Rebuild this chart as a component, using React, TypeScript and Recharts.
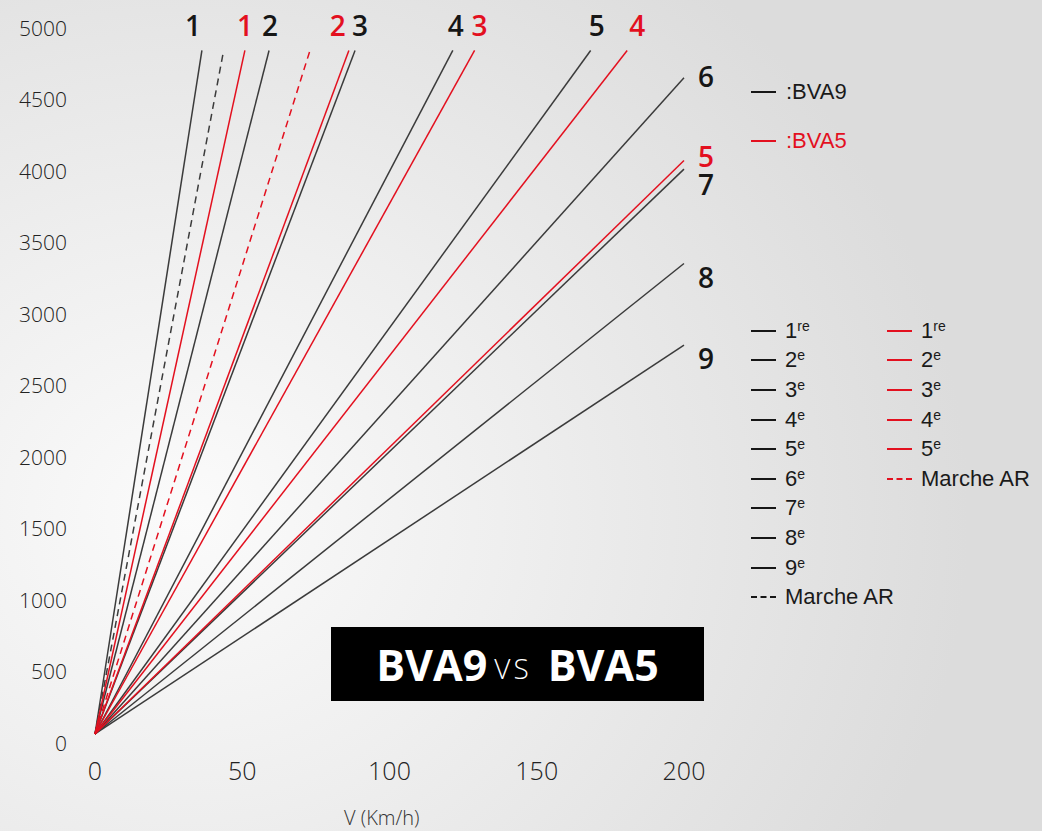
import React from 'react';
import { LineChart, Line, XAxis, YAxis } from 'recharts';

// BVA9 gear lines: end point of each ratio line (speed km/h, engine rpm)
const BVA9_GEARS = ['1', '2', '3', '4', '5', '6', '7', '8', '9', 'AR'];
const BVA9_END_SPEED = [36.3, 59.1, 88.3, 121.5, 168.3, 200, 200, 200, 200, 43.5];
const BVA9_END_RPM = [4780, 4780, 4780, 4780, 4780, 4590, 3950, 3290, 2720, 4760];

// BVA5 gear lines
const BVA5_GEARS = ['1', '2', '3', '4', '5', 'AR'];
const BVA5_END_SPEED = [50.9, 86.2, 128.9, 180.7, 200, 73.0];
const BVA5_END_RPM = [4780, 4780, 4780, 4780, 4010, 4780];

const X_TICKS = [0, 50, 100, 150, 200];
const Y_TICKS = [0, 500, 1000, 1500, 2000, 2500, 3000, 3500, 4000, 4500, 5000];

const BVA9_LEGEND = ['1|re', '2|e', '3|e', '4|e', '5|e', '6|e', '7|e', '8|e', '9|e', 'Marche AR|'];
const BVA5_LEGEND = ['1|re', '2|e', '3|e', '4|e', '5|e', 'Marche AR|'];

// label offsets from each line end (layout only)
const BVA9_LABEL_OFFSET = [[-9, -25], [1, -25], [5, -25], [3, -25], [6, -25], [22, -2], [22, 15], [22, 13], [22, 13], null];
const BVA5_LABEL_OFFSET = [[0, -25], [-11, -25], [5, -25], [10, -25], [22, -5], null];

const BLACK = '#3b3b3b';
const BLACK_TEXT = '#161616';
const RED = '#e3101f';

const W = 1042;
const H = 831;

function lineData(v: number, rpm: number) {
  return [
    { v: 0, rpm: 0 },
    { v, rpm },
  ];
}

function makeLabel(text: string, color: string, off: number[] | null) {
  return (p: any) => {
    if (!off || !p.value) return <g />;
    return (
      <text
        x={p.x + off[0]}
        y={p.y + off[1]}
        textAnchor="middle"
        dominantBaseline="central"
        fontFamily="'Open Sans', sans-serif"
        fontWeight={600}
        fontSize={28}
        fill={color}
      >
        {text}
      </text>
    );
  };
}

const XTick = ({ x, payload }: any) => (
  <text x={x} y={770} textAnchor="middle" dominantBaseline="central" fontFamily="'Open Sans', sans-serif" fontWeight={300} fontSize={25} fill="#222">
    {payload.value}
  </text>
);

const YTick = ({ y, payload }: any) => (
  <text x={67} y={y + 9} textAnchor="end" dominantBaseline="central" fontFamily="'Open Sans', sans-serif" fontWeight={300} fontSize={21} fill="#222">
    {payload.value}
  </text>
);

function LegendRow({ item, color, dashed }: { item: string; color: string; dashed: boolean }) {
  const [main, sup] = item.split('|');
  return (
    <div style={{ display: 'flex', alignItems: 'center', height: 29.6 }}>
      <div
        style={{
          width: 25,
          height: 0,
          borderTop: `2px ${dashed ? 'dashed' : 'solid'} ${color}`,
          marginRight: 9,
        }}
      />
      <span style={{ fontSize: 22, color: '#1a1a1a' }}>
        {main}
        {sup && <sup style={{ fontSize: 14, verticalAlign: 0, position: 'relative', top: -7 }}>{sup}</sup>}
      </span>
    </div>
  );
}

export default function App() {
  return (
    <div
      style={{
        position: 'absolute',
        left: 0,
        top: 0,
        width: W,
        height: H,
        overflow: 'hidden',
        background: 'radial-gradient(ellipse 75% 85% at 18% 62%, #fbfbfb 0%, #efefef 40%, #dcdcdc 100%)',
        fontFamily: "'Liberation Sans', Arial, sans-serif",
      }}
    >
      <LineChart width={W} height={H} margin={{ top: 19, right: 358, bottom: 97, left: 0 }}>
        <XAxis
          dataKey="v"
          type="number"
          domain={[0, 200]}
          ticks={X_TICKS}
          axisLine={false}
          tickLine={false}
          tick={<XTick />}
          height={0.001}
        />
        <YAxis
          dataKey="rpm"
          type="number"
          domain={[0, 5000]}
          ticks={Y_TICKS}
          axisLine={false}
          tickLine={false}
          tick={<YTick />}
          width={95}
        />
        {BVA9_GEARS.map((g, i) => (
          <Line
            key={'bva9-' + g}
            data={lineData(BVA9_END_SPEED[i], BVA9_END_RPM[i])}
            dataKey="rpm"
            stroke={BLACK}
            strokeWidth={1.5}
            strokeDasharray={g === 'AR' ? '7 5' : undefined}
            dot={false}
            activeDot={false}
            isAnimationActive={false}
            label={makeLabel(g, BLACK_TEXT, BVA9_LABEL_OFFSET[i])}
          />
        ))}
        {BVA5_GEARS.map((g, i) => (
          <Line
            key={'bva5-' + g}
            data={lineData(BVA5_END_SPEED[i], BVA5_END_RPM[i])}
            dataKey="rpm"
            stroke={RED}
            strokeWidth={1.5}
            strokeDasharray={g === 'AR' ? '7 5' : undefined}
            dot={false}
            activeDot={false}
            isAnimationActive={false}
            label={makeLabel(g, RED, BVA5_LABEL_OFFSET[i])}
          />
        ))}
      </LineChart>

      {/* gearbox key */}
      <div style={{ position: 'absolute', left: 751, top: 78, fontSize: 22 }}>
        <div style={{ display: 'flex', alignItems: 'center', height: 28 }}>
          <div style={{ width: 25, borderTop: `2px solid ${BLACK_TEXT}`, marginRight: 10 }} />
          <span style={{ color: '#1a1a1a' }}>:BVA9</span>
        </div>
        <div style={{ display: 'flex', alignItems: 'center', height: 28, marginTop: 21 }}>
          <div style={{ width: 25, borderTop: `2px solid ${RED}`, marginRight: 10 }} />
          <span style={{ color: RED }}>:BVA5</span>
        </div>
      </div>

      {/* gear legend */}
      <div style={{ position: 'absolute', left: 751, top: 316 }}>
        {BVA9_LEGEND.map((item, i) => (
          <LegendRow key={item} item={item} color={BLACK_TEXT} dashed={i === BVA9_LEGEND.length - 1} />
        ))}
      </div>
      <div style={{ position: 'absolute', left: 887, top: 316 }}>
        {BVA5_LEGEND.map((item, i) => (
          <LegendRow key={item} item={item} color={RED} dashed={i === BVA5_LEGEND.length - 1} />
        ))}
      </div>

      {/* title */}
      <div
        style={{
          position: 'absolute',
          left: 331,
          top: 627,
          width: 373,
          height: 74,
          background: '#000',
          color: '#fff',
          display: 'flex',
          alignItems: 'center',
          justifyContent: 'center',
          fontFamily: "'Open Sans', sans-serif",
          whiteSpace: 'pre',
        }}
      >
        <span style={{ fontSize: 43, fontWeight: 700 }}>BVA9</span>
        <span style={{ fontSize: 28, fontWeight: 300, letterSpacing: 3, position: 'relative', top: 4, margin: '0 16px 0 7px' }}>VS</span>
        <span style={{ fontSize: 43, fontWeight: 700 }}>BVA5</span>
      </div>

      {/* axis title */}
      <div
        style={{
          position: 'absolute',
          left: 344,
          top: 804,
          fontFamily: "'Open Sans', sans-serif",
          fontWeight: 300,
          fontSize: 20,
          color: '#333',
        }}
      >
        V (Km/h)
      </div>
    </div>
  );
}
